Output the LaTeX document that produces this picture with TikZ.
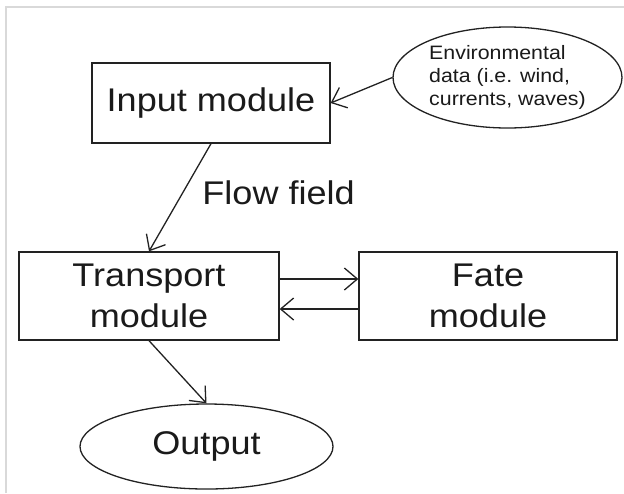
\documentclass[tikz,border=0pt]{standalone}
\usepackage{fontspec}
\setmainfont{Liberation Sans}[FakeStretch=1.1]
\usetikzlibrary{shapes,arrows.meta,positioning}
\definecolor{linegray}{HTML}{222222}
\definecolor{textgray}{HTML}{1A1A1A}
\definecolor{framegray}{HTML}{D9D9D9}

\begin{document}
\begin{tikzpicture}[x=0.5pt, y=-0.5pt,
  box/.style={rectangle, draw=linegray, line width=0.65pt, minimum width=#1, minimum height=44pt, inner sep=0pt, align=center, text=textgray, font=\fontsize{16.4}{20.5}\selectfont},
  oval/.style={ellipse, draw=linegray, line width=0.65pt, inner sep=0pt, text=textgray},
  arr/.style={-{Straight Barb[length=6.5pt, width=11pt]}, line width=0.65pt, linegray}
]
  \useasboundingbox (0,0) rectangle (624,493);
  % light frame
  \draw[framegray, line width=0.8pt] (6,493) -- (6,7) -- (624,7);

  \node[box=119pt, minimum height=40pt] (input) at (211,103) {Input module};
  \node[oval, minimum width=114.5pt, minimum height=50.5pt, align=left, font=\fontsize{9.7}{11.35}\selectfont] (env) at (507.5,77.5) {Environmental\\data (i.e. wind,\\currents, waves)};
  \node[box=130pt] (transport) at (149,296) {Transport\\module};
  \node[box=129pt] (fate) at (488,296) {Fate\\module};
  \node[oval, minimum width=126.5pt, minimum height=42.5pt, font=\fontsize{16.4}{20.5}\selectfont] (output) at (206.5,446.5) {Output};
  \node[anchor=base west, inner sep=0pt, text=textgray, font=\fontsize{16.4}{20}\selectfont] (flow) at (202,204) {Flow field};

  \draw[arr] (env.west) -- (input.east);
  \draw[arr] (input.south) -- (transport.north);
  \draw[arr] ([yshift=8.5pt]transport.east) -- ([yshift=8.5pt]fate.west);
  \draw[arr] ([yshift=-6.5pt]fate.west) -- ([yshift=-6.5pt]transport.east);
  \draw[arr] (transport.south) -- (output.north);
\end{tikzpicture}
\end{document}
